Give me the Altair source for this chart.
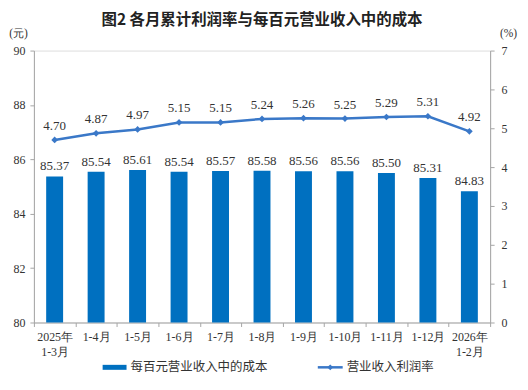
import altair as alt
import pandas as pd

categories = ["2025年\n1-3月", "1-4月", "1-5月", "1-6月", "1-7月", "1-8月",
              "1-9月", "1-10月", "1-11月", "1-12月", "2026年\n1-2月"]
cost = [85.37, 85.54, 85.61, 85.54, 85.57, 85.58, 85.56, 85.56, 85.50, 85.31, 84.83]
rate = [4.70, 4.87, 4.97, 5.15, 5.15, 5.24, 5.26, 5.25, 5.29, 5.31, 4.92]
cost_ticks = [80, 82, 84, 86, 88, 90]
rate_ticks = [0, 1, 2, 3, 4, 5, 6, 7]

df = pd.DataFrame({"cat": categories, "cost": cost, "rate": rate})

W, H = 458, 273
SERIF = "Liberation Serif"
CJK = "Noto Sans CJK SC"
BAR_C = "#0070C0"
LINE_C = "#3A78C8"
AX_C = "#A6A6A6"
TXT_C = "#333333"

x_axis = alt.Axis(labelAngle=0, labelExpr="split(datum.label, '\\n')",
                  labelFont=SERIF, labelFontSize=12, labelColor=TXT_C,
                  labelLineHeight=15, labelPadding=5, labelOverlap=False,
                  tickBand="extent", tickSize=4, tickColor=AX_C,
                  domainColor=AX_C)
x_scale = alt.Scale(paddingInner=0, paddingOuter=0)

cost_scale = alt.Scale(domain=[80, 90], nice=False, zero=False)
rate_scale = alt.Scale(domain=[0, 7], nice=False)

cost_axis = alt.Axis(values=cost_ticks, orient="left",
                     labelFont=SERIF, labelFontSize=12, labelColor=TXT_C,
                     tickSize=4, tickColor=AX_C, domainColor=AX_C,
                     labelPadding=5, grid=False, labelOverlap=False,
                     titleAngle=0, titleX=-16, titleY=-17,
                     titleAlign="center", titleBaseline="middle",
                     titleFont=SERIF, titleFontSize=11.5,
                     titleFontWeight="normal", titleColor=TXT_C)
rate_axis = alt.Axis(values=rate_ticks, orient="right",
                     labelFont=SERIF, labelFontSize=12, labelColor=TXT_C,
                     tickSize=4, tickColor=AX_C, domainColor=AX_C,
                     labelPadding=7, grid=False, labelOverlap=False,
                     titleAngle=0, titleX=18, titleY=-17,
                     titleAlign="center", titleBaseline="middle",
                     titleFont=SERIF, titleFontSize=11.5,
                     titleFontWeight="normal", titleColor=TXT_C)

X = alt.X("cat:N", sort=categories, title=None, scale=x_scale, axis=x_axis)
Y_cost = alt.Y("cost:Q", scale=cost_scale, title="(元)", axis=cost_axis)
Y_rate = alt.Y("rate:Q", scale=rate_scale, title="(%)", axis=rate_axis)

base = alt.Chart(df)

bars = base.mark_bar(size=17, color=BAR_C, clip=True).encode(x=X, y=Y_cost)
bar_text = base.mark_text(baseline="bottom", dy=-3, font=SERIF, fontSize=13,
                          color=TXT_C).encode(
    x=X, y=Y_cost, text=alt.Text("cost:Q", format=".2f"))
left = alt.layer(bars, bar_text)

line = base.mark_line(color=LINE_C, strokeWidth=2.5,
                      point=alt.OverlayMarkDef(shape="diamond", size=45,
                                               filled=True, color=LINE_C)).encode(
    x=X, y=Y_rate)
line_text = base.mark_text(baseline="bottom", dy=-7, font=SERIF, fontSize=13,
                           color=TXT_C).encode(
    x=X, y=Y_rate, text=alt.Text("rate:Q", format=".2f"))
right = alt.layer(line, line_text)

# Title and manual legend
title = alt.Chart(pd.DataFrame({"t": ["图2  各月累计利润率与每百元营业收入中的成本"]})).mark_text(
    font=CJK, fontSize=15.5, fontWeight=600, color="#222222", baseline="middle",
    align="center").encode(x=alt.value(W / 2), y=alt.value(-31), text="t:N")

leg_bar = alt.Chart(pd.DataFrame({"a": [0]})).mark_rule(color=BAR_C, strokeWidth=5).encode(
    x=alt.value(69), x2=alt.value(93), y=alt.value(318))
leg_bar_t = alt.Chart(pd.DataFrame({"t": ["每百元营业收入中的成本"]})).mark_text(
    font=CJK, fontSize=12.5, color=TXT_C, align="left", baseline="middle").encode(
    x=alt.value(97), y=alt.value(318), text="t:N")
leg_line = alt.Chart(pd.DataFrame({"a": [0]})).mark_rule(color=LINE_C, strokeWidth=2.5).encode(
    x=alt.value(285), x2=alt.value(310), y=alt.value(318))
leg_pt = alt.Chart(pd.DataFrame({"a": [0]})).mark_point(
    shape="diamond", size=35, filled=True, color=LINE_C, opacity=1).encode(
    x=alt.value(297.5), y=alt.value(318))
leg_line_t = alt.Chart(pd.DataFrame({"t": ["营业收入利润率"]})).mark_text(
    font=CJK, fontSize=12.5, color=TXT_C, align="left", baseline="middle").encode(
    x=alt.value(314), y=alt.value(318), text="t:N")

chart = alt.layer(left, right, title, leg_bar, leg_bar_t, leg_line, leg_pt, leg_line_t).resolve_scale(
    y="independent"
).properties(
    width=W, height=H,
    autosize=alt.AutoSizeParams(type="none"),
    padding={"left": 26, "top": 42, "right": 30, "bottom": 60},
).configure_view(stroke=AX_C, strokeWidth=1).configure(background="white")

chart.save("out.html", embed_options={"renderer": "svg", "actions": False})
